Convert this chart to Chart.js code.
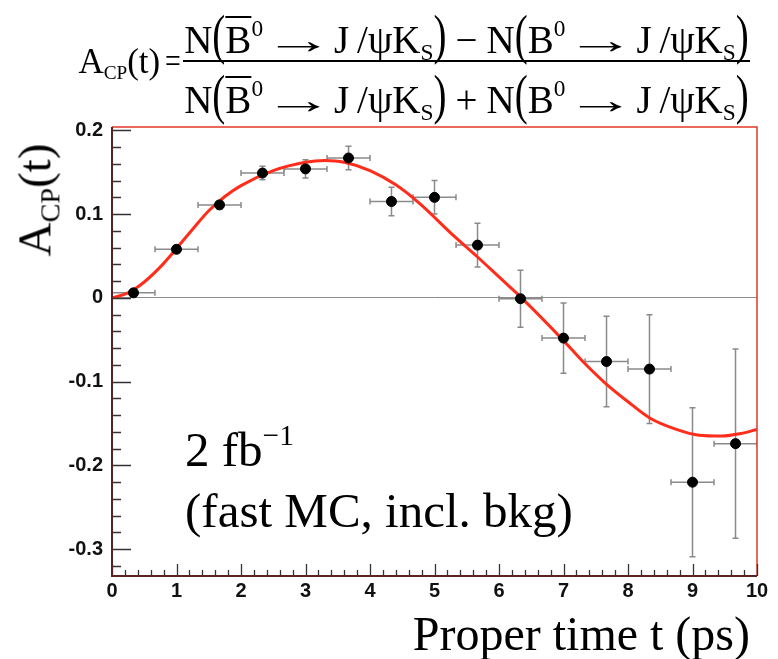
<!DOCTYPE html>
<html>
<head>
<meta charset="utf-8">
<script src="https://cdn.jsdelivr.net/npm/chart.js@4.4.1/dist/chart.umd.min.js"></script>
<style>
  body { margin: 0; background: #fff; }
  #wrap { position: relative; width: 778px; height: 659px; overflow: hidden; }
  #chart { position: absolute; left: 0; top: 0; }
  .serif { position: absolute; font-family: "Liberation Serif", "DejaVu Serif", serif; color: #000; white-space: nowrap; }
  .sb { font-size: 60%; vertical-align: -0.32em; }
  .sp { font-size: 60%; vertical-align: 0.72em; }
  .eq { font-size: 39px; line-height: 39px; }
  #lhs { right: 597px; top: 44px; font-size: 35px; line-height: 35px; text-align: right; }
  #lhs .sb { font-size: 55%; }
  #lhs .eqs { display: inline-block; transform: scaleX(0.8); margin-left: 3px; margin-right: -2px; }
  #num { left: 183px; width: 567px; top: 9px; text-align: center; }
  #den { left: 183px; width: 567px; top: 69px; text-align: center; }
  #bar { position: absolute; left: 183px; width: 567px; top: 60px; height: 2px; background: #000; }
  .bp { display: inline-block; transform: translateY(-0.14em) scaleY(1.4); }
  .ar { display: inline-block; transform: scaleX(1.8); margin: 0 16px; }
  .op { margin: 0 9px; }
  .ob { text-decoration: overline; text-decoration-thickness: 1.5px; }
  #lumi { left: 185px; top: 405px; font-size: 49px; line-height: 61px; }
  #xtitle { right: 28px; top: 610px; font-size: 48px; line-height: 1; }
  #ytitle { left: 38px; top: 200px; font-size: 47px; line-height: 1; transform: translate(-50%, -50%) rotate(-90deg); }
</style>
</head>
<body>
<div id="wrap">
  <canvas id="chart" width="778" height="659"></canvas>

  <div id="lhs" class="serif">A<span class="sb">CP</span>(t)<span class="eqs">=</span></div>
  <div id="num" class="serif eq">N<span class="bp">(</span><span class="ob">B</span><span class="sp">0</span><span class="ar">→</span>J&thinsp;/ψK<span class="sb">S</span><span class="bp">)</span><span class="op">−</span>N<span class="bp">(</span>B<span class="sp">0</span><span class="ar">→</span>J&thinsp;/ψK<span class="sb">S</span><span class="bp">)</span></div>
  <div id="bar"></div>
  <div id="den" class="serif eq">N<span class="bp">(</span><span class="ob">B</span><span class="sp">0</span><span class="ar">→</span>J&thinsp;/ψK<span class="sb">S</span><span class="bp">)</span><span class="op">+</span>N<span class="bp">(</span>B<span class="sp">0</span><span class="ar">→</span>J&thinsp;/ψK<span class="sb">S</span><span class="bp">)</span></div>

  <div id="ytitle" class="serif">A<span class="sb">CP</span>(t)</div>
  <div id="lumi" class="serif">2 fb<span class="sp">−1</span><br>(fast MC, incl. bkg)</div>
  <div id="xtitle" class="serif">Proper time t (ps)</div>
</div>

<script>
// Time bins (bin centres and half widths, ps)
const binCentres = [0.333, 1, 1.667, 2.333, 3, 3.667, 4.333, 5, 5.667, 6.333, 7, 7.667, 8.333, 9, 9.667];
const binHalfWidths = [0.333, 0.333, 0.333, 0.333, 0.333, 0.333, 0.333, 0.333, 0.333, 0.333, 0.333, 0.333, 0.333, 0.333, 0.333];

// Measured asymmetry per bin and its error
const asymValues = [0.006, 0.058, 0.111, 0.149, 0.154, 0.167, 0.115, 0.120, 0.063, -0.001, -0.048, -0.076, -0.085, -0.220, -0.174];
const asymErrors = [0.003, 0.004, 0.005, 0.008, 0.011, 0.014, 0.017, 0.020, 0.026, 0.034, 0.042, 0.054, 0.065, 0.089, 0.113];

// Fitted curve, sampled along t
const fitTimes = [0, 0.25, 0.5, 0.75, 1, 1.25, 1.5, 1.75, 2, 2.5, 3, 3.3, 3.6, 4, 4.4, 4.75, 5.3, 5.65, 6, 6.35, 7, 7.3, 7.65, 8, 8.35, 8.75, 9.1, 9.45, 9.75, 10];
const fitValues = [0, 0.006, 0.019, 0.037, 0.059, 0.082, 0.104, 0.121, 0.134, 0.152, 0.162, 0.164, 0.162, 0.152, 0.135, 0.114, 0.074, 0.050, 0.025, 0, -0.051, -0.076, -0.102, -0.124, -0.144, -0.157, -0.164, -0.165, -0.162, -0.157];

// Axis labels
const yTickValues = [0.2, 0.1, 0, -0.1, -0.2, -0.3];
const yTickLabels = ['0.2', '0.1', '0', '-0.1', '-0.2', '-0.3'];
const xTickLabels = ['0', '1', '2', '3', '4', '5', '6', '7', '8', '9', '10'];

const tickFont = { family: 'Liberation Sans', weight: 'bold', size: 20 };

// grey error crosses under the points
const errorBars = {
    id: 'errorBars',
    beforeDatasetsDraw(chart) {
        const { ctx, chartArea, scales: { x, y } } = chart;
        const cap = 3;
        ctx.save();
        ctx.beginPath();
        ctx.rect(chartArea.left, chartArea.top, chartArea.right - chartArea.left, chartArea.bottom - chartArea.top);
        ctx.clip();
        ctx.strokeStyle = '#8a8a8a';
        ctx.lineWidth = 1.5;
        binCentres.forEach((t, i) => {
            const px = x.getPixelForValue(t);
            const py = y.getPixelForValue(asymValues[i]);
            const x0 = x.getPixelForValue(t - binHalfWidths[i]);
            const x1 = x.getPixelForValue(t + binHalfWidths[i]);
            const y0 = y.getPixelForValue(asymValues[i] - asymErrors[i]);
            const y1 = y.getPixelForValue(asymValues[i] + asymErrors[i]);
            ctx.beginPath();
            ctx.moveTo(x0, py); ctx.lineTo(x1, py);
            ctx.moveTo(x0, py - cap); ctx.lineTo(x0, py + cap);
            ctx.moveTo(x1, py - cap); ctx.lineTo(x1, py + cap);
            ctx.moveTo(px, y0); ctx.lineTo(px, y1);
            ctx.moveTo(px - cap, y0); ctx.lineTo(px + cap, y0);
            ctx.moveTo(px - cap, y1); ctx.lineTo(px + cap, y1);
            ctx.stroke();
        });
        ctx.restore();
    }
};

// frame and inward tick marks
const frameTicks = {
    id: 'frameTicks',
    afterDraw(chart) {
        const { ctx, chartArea: a, scales: { x, y } } = chart;
        ctx.save();
        ctx.lineWidth = 1.5;
        ctx.strokeStyle = '#e2382a';
        ctx.beginPath();
        ctx.moveTo(a.left, a.top); ctx.lineTo(a.right, a.top); ctx.lineTo(a.right, a.bottom);
        ctx.stroke();

        ctx.strokeStyle = '#333';
        ctx.lineWidth = 1.3;
        ctx.beginPath();
        for (let k = -16; k <= 10; k++) {
            const py = Math.round(y.getPixelForValue(k * 0.02)) + 0.5;
            const len = k % 5 === 0 ? 19 : 9;
            ctx.moveTo(a.left, py); ctx.lineTo(a.left + len, py);
        }
        for (let k = 0; k <= 50; k++) {
            const px = Math.round(x.getPixelForValue(k * 0.2)) + 0.5;
            const len = k % 5 === 0 ? 12 : 6;
            ctx.moveTo(px, a.bottom); ctx.lineTo(px, a.bottom - len);
        }
        ctx.stroke();

        ctx.strokeStyle = '#5a2222';
        ctx.lineWidth = 2;
        ctx.beginPath();
        ctx.moveTo(a.left, a.top); ctx.lineTo(a.left, a.bottom); ctx.lineTo(a.right, a.bottom);
        ctx.stroke();
        ctx.restore();
    }
};

new Chart(document.getElementById('chart'), {
    type: 'scatter',
    data: {
        datasets: [
            {
                label: 'fast MC',
                data: binCentres.map((t, i) => ({ x: t, y: asymValues[i] })),
                pointRadius: 5,
                pointBackgroundColor: '#000',
                pointBorderColor: '#000',
                order: 0
            },
            {
                type: 'line',
                label: 'fit',
                data: fitTimes.map((t, i) => ({ x: t, y: fitValues[i] })),
                borderColor: '#ff2d1a',
                borderWidth: 3,
                pointRadius: 0,
                fill: false,
                cubicInterpolationMode: 'monotone',
                order: 1
            }
        ]
    },
    options: {
        responsive: false,
        animation: false,
        events: [],
        layout: { padding: { top: 127, right: 21, left: 0, bottom: 0 } },
        plugins: { legend: { display: false }, tooltip: { enabled: false } },
        scales: {
            x: {
                type: 'linear',
                min: 0,
                max: 10,
                afterFit: s => { s.height = 83; },
                grid: { display: false, drawTicks: false },
                border: { display: false },
                ticks: {
                    stepSize: 1,
                    maxRotation: 0,
                    autoSkip: false,
                    padding: 3,
                    color: '#111',
                    font: tickFont,
                    callback: (v) => xTickLabels[Math.round(v)]
                }
            },
            y: {
                min: -0.332,
                max: 0.204,
                afterFit: s => { s.width = 112; },
                afterBuildTicks: s => { s.ticks = yTickValues.map(v => ({ value: v })); },
                grid: {
                    drawTicks: false,
                    lineWidth: 1,
                    color: c => (c.tick && c.tick.value === 0 ? '#8c8c8c' : 'rgba(0,0,0,0)')
                },
                border: { display: false },
                ticks: {
                    padding: 9,
                    color: '#111',
                    font: tickFont,
                    callback: (v) => yTickLabels[yTickValues.indexOf(v)]
                }
            }
        }
    },
    plugins: [errorBars, frameTicks]
});
</script>
</body>
</html>
